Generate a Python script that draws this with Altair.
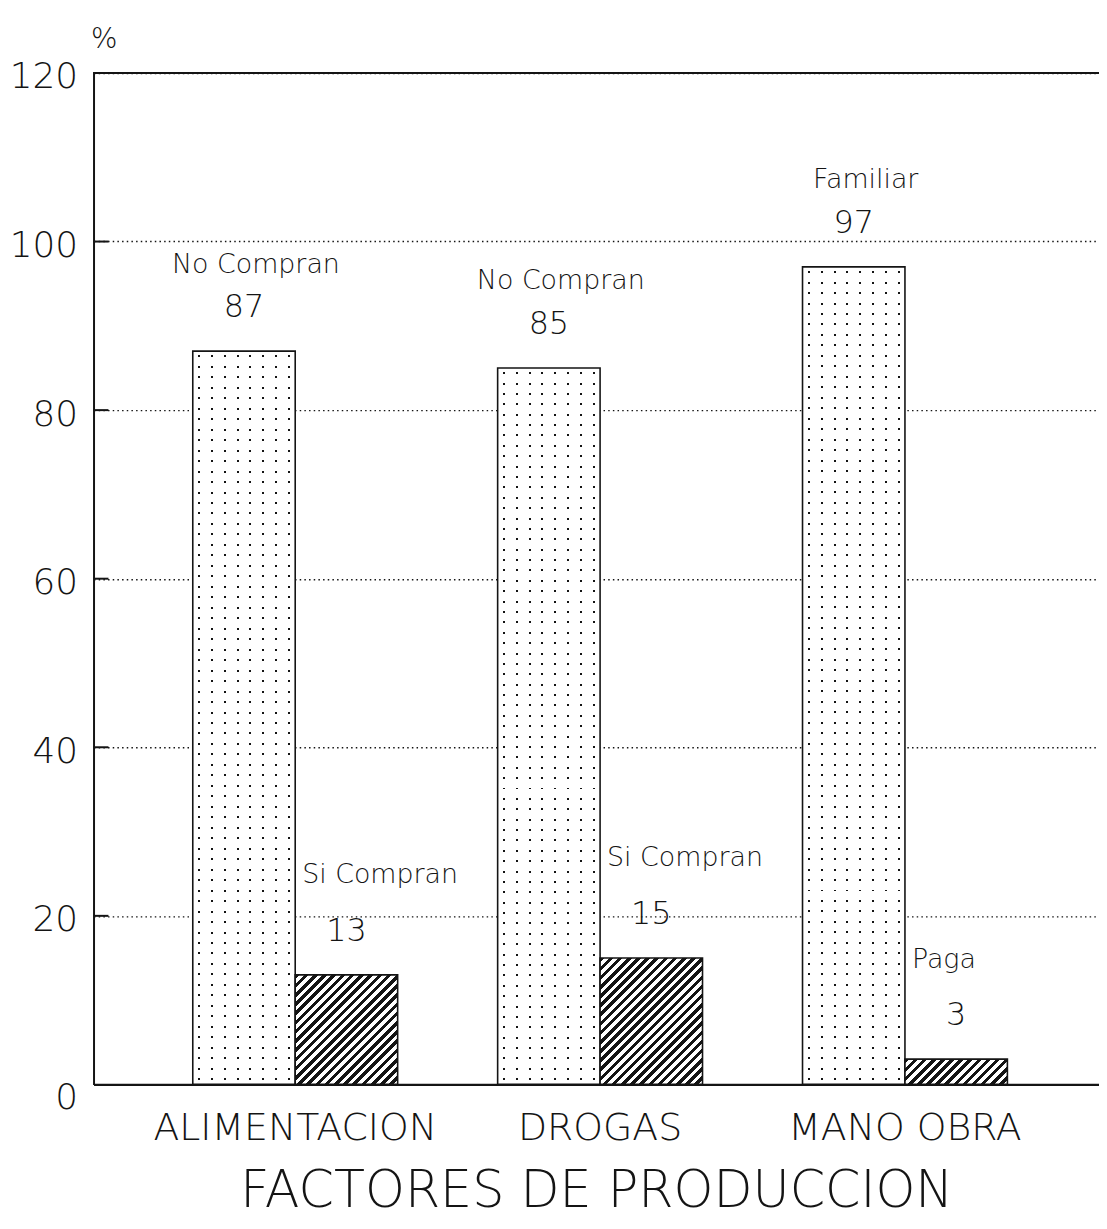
import altair as alt
import pandas as pd

# ---------------- data ----------------
categorias = ["ALIMENTACION", "DROGAS", "MANO OBRA"]
serie1_nombres = ["No Compran", "No Compran", "Familiar"]
serie1_valores = [87, 85, 97]
serie2_nombres = ["Si Compran", "Si Compran", "Paga"]
serie2_valores = [13, 15, 3]
y_ticks = [0, 20, 40, 60, 80, 100, 120]

rows = []
for c, n1, v1, n2, v2 in zip(categorias, serie1_nombres, serie1_valores,
                             serie2_nombres, serie2_valores):
    rows.append({"cat": c, "grupo": "a", "nombre": n1, "valor": v1})
    rows.append({"cat": c, "grupo": "b", "nombre": n2, "valor": v2})
df = pd.DataFrame(rows)
ticks_df = pd.DataFrame({"valor": y_ticks[1:-1]})

# ---------------- style ----------------
INK = "#141414"
FONT = "DejaVu Sans"
W, H = 1011, 1017
YMAX = 120
P_IN, P_OUT, ALIGN = 0.328, 0.313, 0.52
step = W / (len(categorias) - P_IN + 2 * P_OUT)
sub_w = step * (1 - P_IN) / 2


def stops_bands(length, period, band, inside, outside):
    """Hard-edged repeating bands along a gradient of `length` pixels."""
    n = max(1, round(length / period))
    e = band / length / 2
    st = [alt.GradientStop(offset=0, color=outside)]
    for k in range(n):
        c = (k + 0.5) / n
        a, b = round(max(0, c - e), 5), round(min(1, c + e), 5)
        st += [alt.GradientStop(offset=a, color=outside),
               alt.GradientStop(offset=a, color=inside),
               alt.GradientStop(offset=b, color=inside),
               alt.GradientStop(offset=b, color=outside)]
    st.append(alt.GradientStop(offset=1, color=outside))
    return st


def grad_cols(w):
    return alt.LinearGradient(gradient="linear",
                              stops=stops_bands(w, 12.9, 2.0, INK, "#ffffff"),
                              x1=0, y1=0, x2=1, y2=0)


def grad_rows(h):
    return alt.LinearGradient(gradient="linear",
                              stops=stops_bands(h, 10.5, 2.0, "rgba(255,255,255,0)", "#ffffff"),
                              x1=0, y1=0, x2=0, y2=1)


def grad_hatch(w, h):
    s = (w + h) / (w * w + h * h)
    n = max(1, round((w + h) / 9.3))
    st = []
    for k in range(n):
        a = round(k / n, 5)
        b = round((k + 0.5) / n, 5)
        c = round((k + 1) / n, 5)
        st += [alt.GradientStop(offset=a, color=INK),
               alt.GradientStop(offset=b, color=INK),
               alt.GradientStop(offset=b, color="#ffffff"),
               alt.GradientStop(offset=c, color="#ffffff")]
    return alt.LinearGradient(gradient="linear", stops=st,
                              x1=0, y1=0, x2=round(w * s, 5), y2=round(h * s, 5))


# ---------------- encodings ----------------
X = alt.X("cat:N", sort=categorias,
          scale=alt.Scale(domain=categorias, paddingInner=P_IN,
                          paddingOuter=P_OUT, align=ALIGN),
          axis=alt.Axis(title="FACTORES DE PRODUCCION", labelAngle=0,
                        ticks=False, tickSize=0, labelPadding=55,
                        labelLimit=600,
                        labelBaseline="alphabetic", labelFontSize=38,
                        titleFontSize=51, titleY=123, titleBaseline="alphabetic",
                        titleLimit=1000,
                        domainWidth=2.2, domainColor=INK, labelColor=INK,
                        titleColor=INK, grid=False))
XO = alt.XOffset("grupo:N", scale=alt.Scale(domain=["a", "b"],
                                             paddingInner=0, paddingOuter=0))
Y = alt.Y("valor:Q",
          scale=alt.Scale(domain=[0, YMAX], nice=False, zero=True),
          axis=alt.Axis(values=y_ticks, title="%", titleAngle=0,
                        titleAlign="left", titleX=-3, titleY=-34,
                        titleBaseline="middle", titleFontSize=28,
                        grid=True, gridDash=[1.5, 3.2], gridColor=INK,
                        gridWidth=1.4, ticks=False, tickSize=0,
                        labelPadding=16, labelFontSize=36,
                        labelBaseline="alphabetic",
                        labelOffset=alt.condition("datum.value === 0",
                                                  alt.value(24), alt.value(15)),
                        domainColor=INK, domainWidth=2, labelColor=INK,
                        titleColor=INK))

layers = []
for i, c in enumerate(categorias):
    h1 = serie1_valores[i] * H / YMAX
    h2 = serie2_valores[i] * H / YMAX
    base_a = alt.Chart(df).transform_filter(
        f"datum.cat == '{c}' && datum.grupo == 'a'")
    base_b = alt.Chart(df).transform_filter(
        f"datum.cat == '{c}' && datum.grupo == 'b'")
    layers.append(base_a.mark_bar(fill=grad_cols(sub_w), strokeWidth=0)
                  .encode(x=X, xOffset=XO, y=Y))
    layers.append(base_a.mark_bar(fill=grad_rows(h1), stroke=INK, strokeWidth=1.6)
                  .encode(x=X, xOffset=XO, y=Y))
    layers.append(base_b.mark_bar(fill=grad_hatch(sub_w, h2), stroke=INK,
                                  strokeWidth=1.6)
                  .encode(x=X, xOffset=XO, y=Y))

# inward ticks on the value axis
layers.append(alt.Chart(ticks_df).mark_rule(color=INK, strokeWidth=2)
              .encode(y=Y, x=alt.value(0), x2=alt.value(15)))
# top frame line
layers.append(alt.Chart(ticks_df).mark_rule(color=INK, strokeWidth=2)
              .encode(y=alt.datum(YMAX), x=alt.value(0), x2=alt.value(W)))

# value labels
layers.append(alt.Chart(df).mark_text(dy=-44, baseline="middle", fontSize=32,
                                      color=INK)
              .encode(x=X, xOffset=XO, y=Y, text="valor:Q"))
# series names
layers.append(alt.Chart(df).transform_filter("datum.grupo == 'a'")
              .mark_text(dy=-87, dx=12, baseline="middle", fontSize=27, color=INK)
              .encode(x=X, xOffset=XO, y=Y, text="nombre:N"))
layers.append(alt.Chart(df).transform_filter("datum.grupo == 'b'")
              .mark_text(dy=-100, dx=-sub_w / 2 + 7, align="left",
                         baseline="middle", fontSize=27, color=INK)
              .encode(x=X, xOffset=XO, y=Y, text="nombre:N"))

chart = (alt.layer(*layers)
         .properties(width=W, height=H,
                     padding={"left": 86, "top": 62, "right": 0, "bottom": 133},
                     autosize=alt.AutoSizeParams(type="none"),
                     background="#ffffff")
         .configure_view(stroke=None)
         .configure_axis(labelFont=FONT, titleFont=FONT,
                         labelFontWeight=200, titleFontWeight=200)
         .configure_text(font=FONT, fontWeight=200))

chart.save("out.html", embed_options={"renderer": "svg", "actions": False})
